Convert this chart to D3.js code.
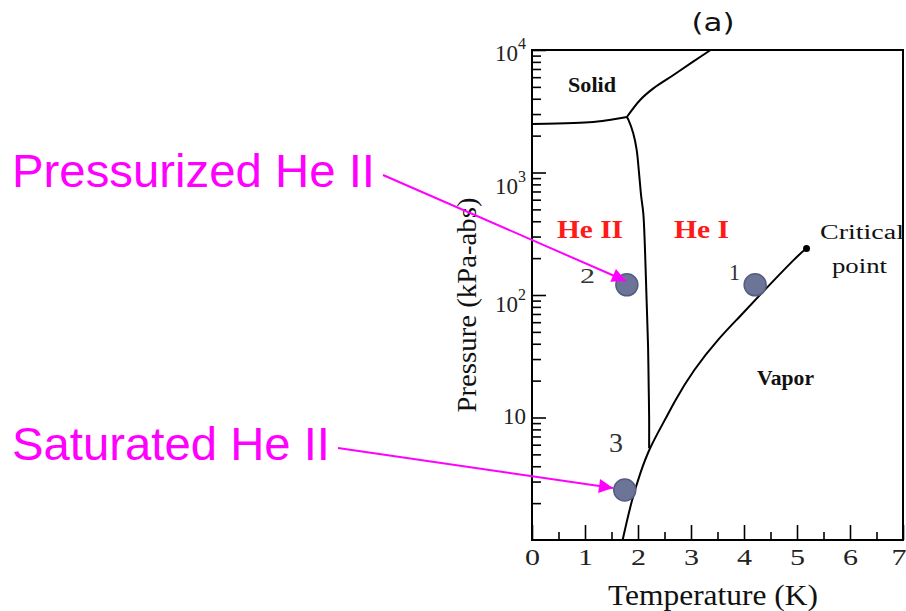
<!DOCTYPE html>
<html>
<head>
<meta charset="utf-8">
<script src="https://cdn.jsdelivr.net/npm/d3@7"></script>
<style>
  body { margin: 0; background: #fff; }
  svg { display: block; }
</style>
</head>
<body>
<div id="Chart"></div>
<script>
// phase boundaries of helium (T in K, P in kPa)
var solidT   = [0, 0.47, 1.0, 1.28, 1.60, 1.79];
var solidP   = [2490, 2510, 2560, 2620, 2750, 2840];
var meltT    = [1.79, 2.04, 2.29, 2.67, 3.04, 3.37];
var meltP    = [2840, 3910, 4860, 6250, 8040, 10000];
var lambdaT  = [1.79, 1.82, 1.91, 1.975, 2.02, 2.06, 2.10, 2.13, 2.16, 2.19, 2.20, 2.21, 2.21];
var lambdaP  = [2840, 2690, 2090, 1530, 984, 640, 464, 248, 97, 38, 20, 10, 5.6];
var vaporT   = [1.71, 1.88, 2.04, 2.21, 2.54, 2.67, 3.04, 3.55, 3.92, 4.24, 5.02, 5.18];
var vaporP   = [1, 2.12, 3.5, 5.6, 10.1, 13.1, 24.4, 45.7, 66.5, 94, 212, 240];
var critical = {T: 5.18, P: 240};
// operating states 1, 2, 3
var stateNames = ["1", "2", "3"];
var stateT = [4.21, 1.79, 1.75];
var stateP = [121, 121, 2.56];
// axis ticks
var xTicks = [0, 1, 2, 3, 4, 5, 6, 7];
var xMinor = [0.5, 1.5, 2.5, 3.5, 4.5, 5.5, 6.5];
var yMajor = [10, 100, 1000, 10000];
var yLabelBase = ["10", "10", "10", "10"];
var yLabelExp = ["", "2", "3", "4"];

var width = 906, height = 611;
var margin = {top: 50, right: 3, bottom: 71, left: 532};

var svg = d3.select("#Chart")
            .append("svg")
            .attr("class", "chart")
            .attr("width", width)
            .attr("height", height);

var x = d3.scaleLinear().domain([0, 7]).range([margin.left, width - margin.right]);
var y = d3.scaleLog().domain([1, 10000]).range([height - margin.bottom, margin.top]);

var serif = "'Liberation Serif', 'Times New Roman', serif";

// minor log ticks
var yMinor = [];
[1, 10, 100, 1000].forEach(function(d){
    for (var k = 2; k <= 9; k++) yMinor.push(d * k);
});

// ticks point into the plot
svg.append("g")
   .attr("transform", "translate(" + margin.left + ",0)")
   .call(d3.axisLeft(y).tickValues(yMinor).tickSize(-9).tickFormat(""))
   .call(g => g.select(".domain").remove());
svg.append("g")
   .attr("transform", "translate(" + margin.left + ",0)")
   .call(d3.axisLeft(y).tickValues(yMajor).tickSize(-14).tickFormat(""))
   .call(g => g.select(".domain").remove());
svg.append("g")
   .attr("transform", "translate(0," + y(1) + ")")
   .call(d3.axisBottom(x).tickValues(xMinor).tickSize(-8).tickFormat(""))
   .call(g => g.select(".domain").remove());
var xaxis = svg.append("g")
   .attr("transform", "translate(0," + y(1) + ")")
   .call(d3.axisBottom(x).tickValues(xTicks).tickFormat(d3.format("d"))
           .tickSizeInner(-15).tickSizeOuter(0).tickPadding(8))
   .call(g => g.select(".domain").remove());
xaxis.selectAll("text")
     .attr("font-family", serif)
     .attr("font-size", 24)
     .attr("fill", "#222")
     .attr("textLength", 15)
     .attr("lengthAdjust", "spacingAndGlyphs");
// last label sits against the right edge, as in the figure
xaxis.selectAll(".tick text").filter(d => d === 7)
     .attr("text-anchor", "end")
     .attr("x", 3);
svg.selectAll("g .tick line").attr("stroke", "#000").attr("stroke-width", 1.6);

// y labels with superscripts
var yLab = svg.append("g").attr("font-family", serif).attr("fill", "#222");
var yShift = [6, 17, 21, 11];
yMajor.forEach(function(v, i){
    var t = yLab.append("text")
        .attr("x", 526)
        .attr("y", y(v) + yShift[i])
        .attr("text-anchor", "end")
        .attr("font-size", 23)
        .text(yLabelBase[i]);
    if (yLabelExp[i]) {
        t.append("tspan")
         .attr("font-size", 16)
         .attr("dy", -12)
         .text(yLabelExp[i]);
    }
});

// frame
svg.append("rect")
   .attr("x", x(0))
   .attr("y", y(10000))
   .attr("width", x(7) - x(0))
   .attr("height", y(1) - y(10000))
   .attr("fill", "none")
   .attr("stroke", "#000")
   .attr("stroke-width", 2);

// phase boundaries
var line = d3.line()
             .x(function(d){ return x(d[0]); })
             .y(function(d){ return y(d[1]); })
             .curve(d3.curveCatmullRom);
var smooth = d3.line()
             .x(function(d){ return x(d[0]); })
             .y(function(d){ return y(d[1]); })
             .curve(d3.curveBasis);
var curves = [[solidT, solidP, line], [meltT, meltP, line], [lambdaT, lambdaP, line], [vaporT, vaporP, smooth]];
svg.append("g").selectAll("path")
   .data(curves)
   .enter()
   .append("path")
   .attr("d", function(c){ return c[2](d3.zip(c[0], c[1])); })
   .attr("fill", "none")
   .attr("stroke", "#000")
   .attr("stroke-width", 2);

svg.append("circle")
   .attr("cx", x(critical.T))
   .attr("cy", y(critical.P))
   .attr("r", 3.5)
   .attr("fill", "#000");

// state markers
svg.append("g").selectAll("circle")
   .data(stateNames)
   .enter()
   .append("circle")
   .attr("cx", (d, i) => x(stateT[i]))
   .attr("cy", (d, i) => y(stateP[i]))
   .attr("r", 11)
   .attr("fill", "#6c7597")
   .attr("stroke", "#545d82")
   .attr("stroke-width", 1.5);

// region and point labels
var labels = [
    {t: "Solid", x: 568, y: 92, size: 20, w: 48, bold: true, c: "#111"},
    {t: "He II", x: 557, y: 238, size: 26, w: 66, bold: true, c: "#ff1a1a"},
    {t: "He I", x: 674, y: 238, size: 26, w: 55, bold: true, c: "#ff1a1a"},
    {t: "Critical", x: 820, y: 239, size: 20, w: 84, bold: false, c: "#111"},
    {t: "point", x: 832, y: 273, size: 20, w: 55, bold: false, c: "#111"},
    {t: "Vapor", x: 757, y: 385, size: 20, w: 57, bold: true, c: "#111"},
    {t: "1", x: 729, y: 280, size: 24, w: 11, bold: false, c: "#333"},
    {t: "2", x: 580, y: 283, size: 22, w: 15, bold: false, c: "#333"},
    {t: "3", x: 609, y: 452, size: 27, w: 14, bold: false, c: "#333"}
];
svg.append("g").selectAll("text")
   .data(labels)
   .enter()
   .append("text")
   .attr("x", d => d.x)
   .attr("y", d => d.y)
   .attr("font-family", serif)
   .attr("font-size", d => d.size)
   .attr("font-weight", d => d.bold ? "bold" : "normal")
   .attr("fill", d => d.c)
   .attr("textLength", d => d.w)
   .attr("lengthAdjust", "spacingAndGlyphs")
   .text(d => d.t);

// axis titles
svg.append("text")
   .attr("x", 713)
   .attr("y", 605)
   .attr("text-anchor", "middle")
   .attr("font-family", serif)
   .attr("font-size", 29)
   .attr("fill", "#111")
   .attr("textLength", 210)
   .attr("lengthAdjust", "spacingAndGlyphs")
   .text("Temperature (K)");
svg.append("text")
   .attr("transform", "translate(476,305) rotate(-90)")
   .attr("text-anchor", "middle")
   .attr("font-family", serif)
   .attr("font-size", 27)
   .attr("fill", "#111")
   .attr("textLength", 215)
   .attr("lengthAdjust", "spacingAndGlyphs")
   .text("Pressure (kPa-abs)");
svg.append("text")
   .attr("x", 713)
   .attr("y", 31)
   .attr("text-anchor", "middle")
   .attr("font-family", "'DejaVu Sans', sans-serif")
   .attr("font-size", 24)
   .attr("fill", "#111")
   .attr("textLength", 43)
   .attr("lengthAdjust", "spacingAndGlyphs")
   .text("(a)");

// magenta call-outs
var magenta = "#ff00ff";
svg.append("defs").append("marker")
   .attr("id", "head")
   .attr("viewBox", "0 0 10 10")
   .attr("refX", 10)
   .attr("refY", 5)
   .attr("markerWidth", 8)
   .attr("markerHeight", 7)
   .attr("markerUnits", "strokeWidth")
   .attr("orient", "auto")
   .append("path")
   .attr("d", "M0,0L10,5L0,10Z")
   .attr("fill", magenta);

var callouts = [
    {t: "Pressurized He II", tx: 12, ty: 187, w: 363, x1: 383, y1: 175, x2: 626, y2: 281},
    {t: "Saturated He II", tx: 12, ty: 460, w: 318, x1: 338, y1: 448, x2: 613, y2: 488}
];
callouts.forEach(function(c){
    svg.append("text")
       .attr("x", c.tx)
       .attr("y", c.ty)
       .attr("font-family", "'Liberation Sans', Arial, sans-serif")
       .attr("font-size", 46)
       .attr("fill", magenta)
       .attr("textLength", c.w)
       .attr("lengthAdjust", "spacingAndGlyphs")
       .text(c.t);
    svg.append("line")
       .attr("x1", c.x1).attr("y1", c.y1)
       .attr("x2", c.x2).attr("y2", c.y2)
       .attr("stroke", magenta)
       .attr("stroke-width", 2)
       .attr("marker-end", "url(#head)");
});
</script>
</body>
</html>
